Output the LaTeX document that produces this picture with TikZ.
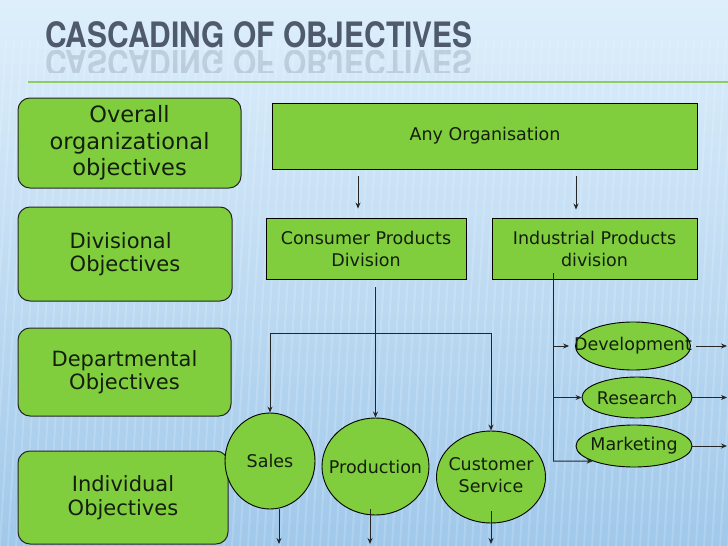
\documentclass[tikz,border=0pt]{standalone}
\usepackage{fontspec}
\setmainfont{DejaVu Sans}
\newfontfamily\titlefont[FakeStretch=0.855]{TeX Gyre Heros}
\usetikzlibrary{shapes.geometric,arrows.meta,calc}
\definecolor{grn}{RGB}{128,206,62}
\definecolor{ttl}{RGB}{79,91,109}
\definecolor{bgtop}{RGB}{222,239,251}
\definecolor{bgmid}{RGB}{196,225,246}
\definecolor{bgbot}{RGB}{160,200,234}
\definecolor{rulegreen}{RGB}{140,205,100}
\definecolor{txt}{RGB}{20,30,15}
\begin{document}
\begin{tikzpicture}[x=1pt,y=-1pt,
 lbox/.style={draw=black!85, fill=grn, rounded corners=12pt, line width=1pt, align=center, text=txt, inner sep=0pt},
 rbox/.style={draw=black, fill=grn, line width=0.9pt, align=center, text=txt, inner sep=0pt, font=\fontsize{17.5}{22}\selectfont},
 oval/.style={ellipse, draw=black, fill=grn, line width=0.9pt, inner sep=0pt, text=txt, font=\fontsize{17.5}{22}\selectfont},
 link/.style={line width=1pt, draw=black!85},
 arr/.style={link, -{Stealth[length=6pt,width=5pt]}},
 ttlfont/.style={font=\titlefont\bfseries\fontsize{35}{35}\selectfont}]

\useasboundingbox (0,0) rectangle (728,546);
\shade[top color=bgtop, middle color=bgmid, bottom color=bgbot] (0,0) rectangle (728,546);
\foreach \i in {-40,-32,...,760} \draw[white, opacity=0.16, line width=2pt] (\i,546) -- (\i+30,40);

% title
\node[anchor=base west, inner sep=0pt, text=ttl, ttlfont] (title) at (45,47) {CASCADING OF OBJECTIVES};
\begin{scope}
\clip (40,50) rectangle (490,72);
\node[anchor=base west, inner sep=0pt, text=ttl, opacity=0.2, ttlfont, yscale=-1, transform shape] (refl) at (45,50) {CASCADING OF OBJECTIVES};
\end{scope}
\draw[rulegreen, line width=2pt] (28,82) -- (728,82);

% left column
\node[lbox, minimum width=223pt, minimum height=90pt, font=\fontsize{22.5}{26.5}\selectfont] (overall) at (129.5,143) {Overall\\organizational\\objectives};
\node[lbox, minimum width=214pt, minimum height=94pt, align=left, font=\fontsize{21}{23.5}\selectfont] (divl) at (125,254) {Divisional\\Objectives};
\node[lbox, minimum width=213pt, minimum height=88pt, font=\fontsize{21}{23.5}\selectfont] (dept) at (124.5,372) {Departmental\\Objectives};
\node[lbox, minimum width=210pt, minimum height=93pt, font=\fontsize{21}{23.5}\selectfont] (indiv) at (123,497.5) {Individual\\Objectives};

% boxes
\node[rbox, minimum width=425pt, minimum height=66pt] (org) at (485,136) {Any Organisation};
\node[rbox, minimum width=200pt, minimum height=61pt] (cons) at (366,248.5) {Consumer Products\\Division};
\node[rbox, minimum width=205pt, minimum height=61pt] (ind) at (594.5,248.5) {Industrial Products\\division};

% ovals
\node[oval, minimum width=90pt, minimum height=96pt] (sales) at (270,461) {\makebox[0pt]{Sales}};
\node[oval, minimum width=107pt, minimum height=97pt] (prod) at (375.5,466.5) {\makebox[0pt]{Production}};
\node[oval, minimum width=109pt, minimum height=92pt] (cust) at (491,477) {\makebox[0pt]{\begin{tabular}{@{}c@{}}Customer\\Service\end{tabular}}};
\node[oval, minimum width=115pt, minimum height=48pt] (dev) at (633,346) {\makebox[0pt]{Development}};
\node[oval, minimum width=110pt, minimum height=41pt] (res) at (637,397.5) {\makebox[0pt]{Research}};
\node[oval, minimum width=116pt, minimum height=42pt] (mkt) at (634,446) {\makebox[0pt]{Marketing}};

% connectors
\coordinate (c1) at (358,0);
\coordinate (c2) at (576,0);
\draw[arr, shorten <=7pt, shorten >=9pt] (org.south -| c1) -- (cons.north -| c1);
\draw[arr, shorten <=7pt, shorten >=8pt] (org.south -| c2) -- (ind.north -| c2);

\coordinate (jn) at (376,333);
\draw[arr, shorten <=8pt] (cons.south -| prod.north) -- (prod.north);
\draw[link] (jn -| sales.north) -- (jn -| cust.north);
\draw[arr] (jn -| sales.north) -- (sales.north);
\draw[arr] (jn -| cust.north) -- (cust.north);

\coordinate (bot) at (0,544);
\draw[arr] ([xshift=9pt]sales.south) -- ([xshift=9pt]sales.south |- bot);
\draw[arr] ([xshift=-5.5pt,yshift=6pt]prod.south) -- ([xshift=-5.5pt]prod.south |- bot);
\draw[arr] ([yshift=12pt]cust.south) -- (cust.south |- bot);

\coordinate (i0) at (553,273);
\coordinate (i1) at (553,461);
\draw[link] (i0) -- (i1);
\draw[arr, shorten >=6pt] (dev.west -| i0) -- (dev.west);
\draw[arr] (res.west -| i0) -- (res.west);
\draw[arr] (i1) -- (mkt.south west);

\coordinate (rt) at (727,0);
\draw[arr, shorten <=5pt] (dev.east) -- (dev.east -| rt);
\draw[arr] (res.east) -- (res.east -| rt);
\draw[arr] (mkt.east) -- (mkt.east -| rt);
\end{tikzpicture}
\end{document}
